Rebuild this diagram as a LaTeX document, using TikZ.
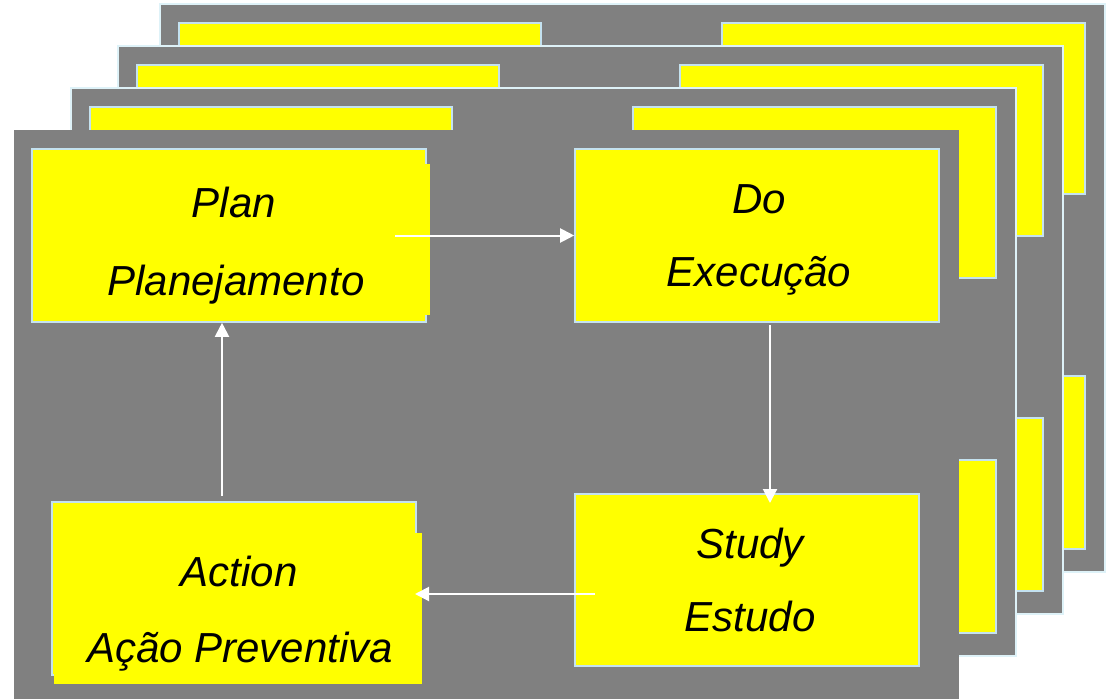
\documentclass[tikz,border=0pt]{standalone}
\usepackage{fontspec}
\setmainfont{Liberation Sans}
\usetikzlibrary{arrows.meta}
\definecolor{panelgray}{RGB}{128,128,128}
\definecolor{boxyellow}{RGB}{255,255,0}
\definecolor{boxedge}{RGB}{196,226,240}
\definecolor{paneledge}{RGB}{222,242,248}
\tikzset{
  panel/.style={fill=panelgray, draw=paneledge, line width=1.2pt},
  frontpanel/.style={fill=panelgray},
  rearbox/.style={fill=boxyellow, draw=boxedge, line width=1.6pt},
  ybox/.style={rectangle, fill=boxyellow, draw=boxedge, line width=1.6pt, inner sep=0pt},
  patch/.style={fill=boxyellow},
  lbl/.style={font=\itshape\fontsize{42}{50}\selectfont, anchor=base, inner sep=0pt, text=black},
  arr/.style={draw=white, line width=2pt, -{Triangle[length=14pt,width=14pt]}},
}
\begin{document}
\begin{tikzpicture}[x=1pt,y=-1pt]
\useasboundingbox (0,0) rectangle (1107,698);
% rear panels
\foreach \xo/\yo in {160/4, 118/46, 71/88}{
  \draw[panel] (\xo,\yo) rectangle ++(945,568);
  \draw[rearbox] (\xo+19,\yo+19) rectangle ++(362,173);
  \draw[rearbox] (\xo+562,\yo+19) rectangle ++(363,171);
  \draw[rearbox] (\xo+562,\yo+372) rectangle ++(363,173);
}
% front panel
\fill[frontpanel] (14,130) rectangle (959,700);
% boxes
\node[ybox, minimum width=394pt, minimum height=173pt] (plan) at (229,235.5) {};
\fill[patch] (36,164) rectangle (430,315);
\node[ybox, minimum width=364pt, minimum height=173pt] (do) at (757,235.5) {};
\node[ybox, minimum width=344pt, minimum height=172pt] (study) at (747,580) {};
\node[ybox, minimum width=364pt, minimum height=173pt] (action) at (234,588.5) {};
\fill[patch] (54,533) rectangle (422,684);
% labels
\node[lbl] (t1) at (234,217) {Plan};
\node[lbl] (t2) at (236,295) {Planejamento};
\node[lbl] (t3) at (759,213) {Do};
\node[lbl] (t4) at (759,286) {Execução};
\node[lbl] (t5) at (750,558) {Study};
\node[lbl] (t6) at (750,631) {Estudo};
\node[lbl] (t7) at (239,586) {Action};
\node[lbl] (t8) at (240,662) {Ação Preventiva};
% connectors
\coordinate (planOut) at (395,235.5);
\coordinate (doOut) at (770,325);
\coordinate (studyIn) at (770,503);
\coordinate (studyOut) at (595,594);
\coordinate (actionIn) at (415,594);
\coordinate (actionOut) at (222,496);
\draw[arr] (planOut) -- (do.west);
\draw[arr] (doOut) -- (studyIn);
\draw[arr] (studyOut) -- (actionIn);
\draw[arr] (actionOut) -- (plan.south -| actionOut);
\end{tikzpicture}
\end{document}
